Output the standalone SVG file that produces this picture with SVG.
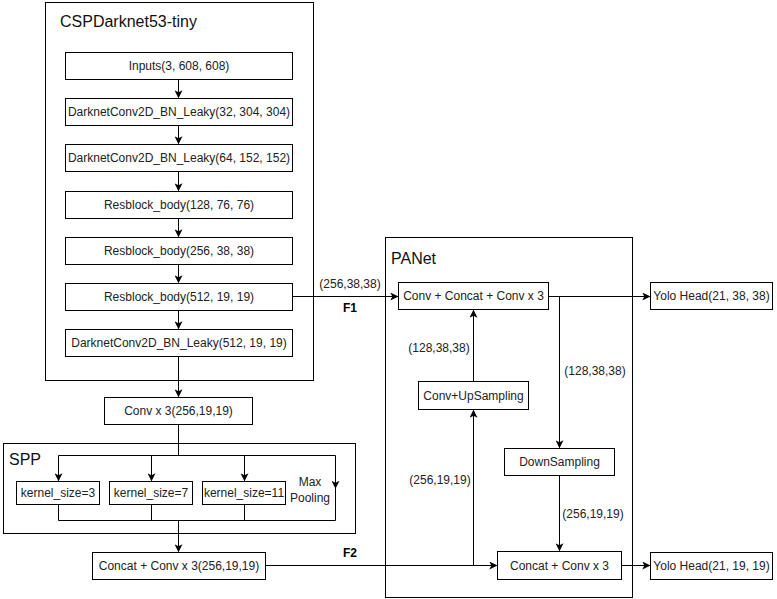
<svg xmlns="http://www.w3.org/2000/svg" width="777" height="599" viewBox="0 0 777 599">
  <style>
    .frame { fill: none; stroke: #000; stroke-width: 1; }
    .box rect { fill: #fff; stroke: #000; stroke-width: 1; }
    .box text, .lbl { font-family: "Liberation Sans", Arial, sans-serif; font-size: 12px; fill: #222; text-anchor: middle; }
    .title { font-family: "Liberation Sans", Arial, sans-serif; font-size: 16px; fill: #111; }
    .bold { font-weight: bold; fill: #000; }
    .wire { fill: none; stroke: #000; stroke-width: 1; }
  </style>
  <defs>
    <marker id="arrow" viewBox="0 0 10 10" refX="9" refY="5" markerWidth="8" markerHeight="8" markerUnits="userSpaceOnUse" orient="auto">
      <path d="M0,0 L10,5 L0,10 L2.5,5 Z" fill="#000"/>
    </marker>
  </defs>

  <rect width="777" height="599" fill="#fff"/>

  <!-- containers -->
  <g id="cspdarknet">
    <rect class="frame" x="45.5" y="2.5" width="268" height="378"/>
    <text class="title" x="60" y="27">CSPDarknet53-tiny</text>
  </g>
  <g id="spp">
    <rect class="frame" x="3.5" y="443.5" width="352" height="90"/>
    <text class="title" x="9" y="465">SPP</text>
    <text class="lbl" x="310" y="486">Max</text>
    <text class="lbl" x="310" y="502">Pooling</text>
  </g>
  <g id="panet">
    <rect class="frame" x="385.5" y="237.5" width="247" height="360"/>
    <text class="title" x="391" y="264">PANet</text>
  </g>

  <!-- backbone nodes -->
  <g id="inputs" class="box"><rect x="65.5" y="52.5" width="227" height="27"/><text x="179" y="70">Inputs(3, 608, 608)</text></g>
  <g id="conv1" class="box"><rect x="65.5" y="98.5" width="227" height="27"/><text x="179" y="116">DarknetConv2D_BN_Leaky(32, 304, 304)</text></g>
  <g id="conv2" class="box"><rect x="65.5" y="144.5" width="227" height="27"/><text x="179" y="162">DarknetConv2D_BN_Leaky(64, 152, 152)</text></g>
  <g id="res1" class="box"><rect x="65.5" y="191.5" width="227" height="27"/><text x="179" y="209">Resblock_body(128, 76, 76)</text></g>
  <g id="res2" class="box"><rect x="65.5" y="237.5" width="227" height="27"/><text x="179" y="255">Resblock_body(256, 38, 38)</text></g>
  <g id="res3" class="box"><rect x="65.5" y="283.5" width="227" height="27"/><text x="179" y="301">Resblock_body(512, 19, 19)</text></g>
  <g id="conv3" class="box"><rect x="65.5" y="329.5" width="227" height="27"/><text x="179" y="347">DarknetConv2D_BN_Leaky(512, 19, 19)</text></g>

  <g id="convx3" class="box"><rect x="104.5" y="397.5" width="148" height="27"/><text x="178.5" y="415">Conv x 3(256,19,19)</text></g>

  <!-- SPP pools -->
  <g id="k3" class="box"><rect x="16.5" y="481.5" width="83" height="23"/><text x="58" y="497">kernel_size=3</text></g>
  <g id="k7" class="box"><rect x="109.5" y="481.5" width="83" height="23"/><text x="151" y="497">kernel_size=7</text></g>
  <g id="k11" class="box"><rect x="202.5" y="481.5" width="83" height="23"/><text x="244" y="497">kernel_size=11</text></g>

  <g id="concat_spp" class="box"><rect x="92.5" y="552.5" width="173" height="27"/><text x="179" y="570">Concat + Conv x 3(256,19,19)</text></g>

  <!-- PANet nodes -->
  <g id="pa_top" class="box"><rect x="398.5" y="282.5" width="150" height="27"/><text x="473.5" y="300">Conv + Concat + Conv x 3</text></g>
  <g id="upsample" class="box"><rect x="418.5" y="381.5" width="110" height="28"/><text x="473.5" y="400">Conv+UpSampling</text></g>
  <g id="downsample" class="box"><rect x="504.5" y="448.5" width="110" height="27"/><text x="559.5" y="466">DownSampling</text></g>
  <g id="pa_bottom" class="box"><rect x="497.5" y="551.5" width="124" height="28"/><text x="559.5" y="570">Concat + Conv x 3</text></g>

  <!-- heads -->
  <g id="head38" class="box"><rect x="650.5" y="282.5" width="122" height="27"/><text x="711.5" y="300">Yolo Head(21, 38, 38)</text></g>
  <g id="head19" class="box"><rect x="650.5" y="552.5" width="122" height="27"/><text x="711.5" y="570">Yolo Head(21, 19, 19)</text></g>

  <!-- connectors -->
  <g id="connectors" class="wire">
    <path d="M178.5,80 V97.5" marker-end="url(#arrow)"/>
    <path d="M178.5,126 V143.5" marker-end="url(#arrow)"/>
    <path d="M178.5,172 V190.5" marker-end="url(#arrow)"/>
    <path d="M178.5,219 V236.5" marker-end="url(#arrow)"/>
    <path d="M178.5,265 V282.5" marker-end="url(#arrow)"/>
    <path d="M178.5,311 V328.5" marker-end="url(#arrow)"/>
    <path d="M178.5,357 V396.5" marker-end="url(#arrow)"/>

    <!-- SPP fan-out -->
    <path d="M178.5,425 V455.5"/>
    <path d="M58.5,455.5 H335.5"/>
    <path d="M58.5,455.5 V480.5" marker-end="url(#arrow)"/>
    <path d="M151.5,455.5 V480.5" marker-end="url(#arrow)"/>
    <path d="M244.5,455.5 V480.5" marker-end="url(#arrow)"/>
    <path d="M335.5,455.5 V488" marker-end="url(#arrow)"/>
    <path d="M335.5,486 V520.5"/>
    <!-- SPP merge -->
    <path d="M58.5,505 V520.5 M151.5,505 V520.5 M244.5,505 V520.5"/>
    <path d="M58.5,520.5 H335.5"/>
    <path d="M178.5,520.5 V551.5" marker-end="url(#arrow)"/>

    <!-- F1 -->
    <path d="M293,296.5 H397.5" marker-end="url(#arrow)"/>
    <!-- F2 -->
    <path d="M266,565.5 H496.5" marker-end="url(#arrow)"/>
    <path d="M473.5,565.5 V410.5" marker-end="url(#arrow)"/>
    <path d="M473.5,381 V310.5" marker-end="url(#arrow)"/>

    <!-- downsampling path -->
    <path d="M549,296.5 H649.5" marker-end="url(#arrow)"/>
    <path d="M559.5,296.5 V447.5" marker-end="url(#arrow)"/>
    <path d="M559.5,476 V550.5" marker-end="url(#arrow)"/>
    <path d="M622,565.5 H649.5" marker-end="url(#arrow)"/>
  </g>

  <!-- connector labels -->
  <g id="labels">
    <text class="lbl" x="350" y="288">(256,38,38)</text>
    <text class="lbl bold" x="350" y="312">F1</text>
    <text class="lbl bold" x="350" y="557">F2</text>
    <text class="lbl" x="439" y="352">(128,38,38)</text>
    <text class="lbl" x="440" y="484">(256,19,19)</text>
    <text class="lbl" x="595" y="375">(128,38,38)</text>
    <text class="lbl" x="593" y="518">(256,19,19)</text>
  </g>
</svg>
